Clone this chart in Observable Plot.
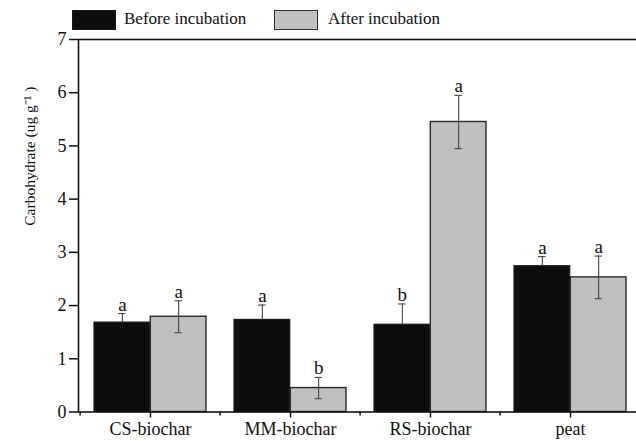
<!DOCTYPE html>
<html>
<head>
<meta charset="utf-8">
<script src="https://cdn.jsdelivr.net/npm/d3@7"></script>
<script src="https://cdn.jsdelivr.net/npm/@observablehq/plot@0.6"></script>
<style>
  html, body { margin: 0; padding: 0; background: #fff; overflow: hidden; }
  #wrap { position: relative; width: 636px; height: 441px; }
  #legend { position: absolute; left: 0; top: 0; width: 636px; height: 36px; font-family: "Liberation Serif", "Times New Roman", serif; font-size: 17px; color: #111; }
  .sw { position: absolute; top: 10px; width: 44px; height: 20px; box-sizing: border-box; }
  .lt { position: absolute; top: 9px; line-height: 20px; }
</style>
</head>
<body>
<div id="wrap">
  <div id="chart"></div>
  <div id="legend"></div>
</div>
<script>
const categories = ["CS-biochar", "MM-biochar", "RS-biochar", "peat"];
const seriesNames = ["Before incubation", "After incubation"];
const before = [1.68, 1.73, 1.64, 2.74];
const beforeErr = [0.17, 0.28, 0.39, 0.18];
const after = [1.79, 0.45, 5.45, 2.53];
const afterErr = [0.30, 0.20, 0.50, 0.40];
const beforeLetters = ["a", "a", "b", "a"];
const afterLetters = ["a", "b", "a", "a"];
const yTicks = [0, 1, 2, 3, 4, 5, 6, 7];
const yLabel = "Carbohydrate (ug g\u207B\u00B9 )";

const colors = ["#0d0d0d", "#c0c0c0"];

const data = categories.map((c, i) => ({
  cat: c, b: before[i], be: beforeErr[i], a: after[i], ae: afterErr[i],
  bl: beforeLetters[i], al: afterLetters[i]
}));

// layout
const W = 636, H = 441, ML = 78, MR = -5, MT = 39, MB = 29.5;
const pIn = 0.2, pOut = 0.1;
const step = (W - ML - MR) / (categories.length - pIn + 2 * pOut);
const bw = step * (1 - pIn);
const half = bw / 2, q = bw / 4, cap = 4;
const font = "Liberation Serif, Times New Roman, serif";
const errColor = "#444";

const chart = Plot.plot({
  width: W, height: H,
  marginLeft: ML, marginRight: MR, marginTop: MT, marginBottom: MB,
  style: { fontFamily: font, background: "#fff", color: "#111" },
  x: { domain: categories, paddingInner: pIn, paddingOuter: pOut, label: null },
  y: { domain: [0, 7], label: null },
  marks: [
    Plot.barY(data, { x: "cat", y: "b", fill: colors[0], stroke: "#1a1a1a", strokeWidth: 1.2, insetRight: half }),
    Plot.barY(data, { x: "cat", y: "a", fill: colors[1], stroke: "#2a2a2a", strokeWidth: 1.4, insetLeft: half }),
    // error bars (before: lower half hidden inside the black bar)
    Plot.ruleX(data, { x: "cat", y1: "b", y2: d => d.b + d.be, dx: -q, stroke: errColor, strokeWidth: 1.1 }),
    Plot.ruleX(data, { x: "cat", y1: d => d.a - d.ae, y2: d => d.a + d.ae, dx: q, stroke: errColor, strokeWidth: 1.1 }),
    Plot.tickY(data, { x: "cat", y: d => d.b + d.be, insetLeft: q - cap, insetRight: bw - q - cap, stroke: errColor, strokeWidth: 1.1 }),
    Plot.tickY(data, { x: "cat", y: d => d.a + d.ae, insetLeft: bw - q - cap, insetRight: q - cap, stroke: errColor, strokeWidth: 1.1 }),
    Plot.tickY(data, { x: "cat", y: d => d.a - d.ae, insetLeft: bw - q - cap, insetRight: q - cap, stroke: errColor, strokeWidth: 1.1 }),
    // significance letters
    Plot.text(data, { x: "cat", y: d => d.b + d.be, text: "bl", dx: -q, dy: -3, lineAnchor: "bottom", fontSize: 19, fill: "#111" }),
    Plot.text(data, { x: "cat", y: d => d.a + d.ae, text: "al", dx: q, dy: -3, lineAnchor: "bottom", fontSize: 19, fill: "#111" }),
    // frame
    Plot.frame({ stroke: "#111", strokeWidth: 1.6 }),
    // axes
    Plot.axisY({ ticks: yTicks, tickSize: 9, tickPadding: 3, fontSize: 18, tickFormat: d => String(d), strokeWidth: 1.5, label: null }),
    Plot.axisX({ tickSize: 6, tickPadding: 4, fontSize: 18, strokeWidth: 1.5, label: null }),
    Plot.axisX({ ticks: categories, tickSize: 4, text: null, dx: -step / 2, strokeWidth: 1.5, label: null }),
    // y label
    Plot.text([yLabel], { frameAnchor: "left", text: d => d, rotate: -90, dx: -48, fontSize: 15.5, fill: "#111" })
  ]
});
document.getElementById("chart").appendChild(chart);

// legend
const legend = document.getElementById("legend");
const legendItems = [
  { name: seriesNames[0], color: colors[0], border: "#1a1a1a", sx: 72, tx: 124 },
  { name: seriesNames[1], color: colors[1], border: "#333", sx: 274, tx: 328 }
];
legendItems.forEach(it => {
  const s = document.createElement("div");
  s.className = "sw";
  s.style.left = it.sx + "px";
  s.style.background = it.color;
  s.style.border = "1.5px solid " + it.border;
  legend.appendChild(s);
  const t = document.createElement("div");
  t.className = "lt";
  t.style.left = it.tx + "px";
  t.textContent = it.name;
  legend.appendChild(t);
});
</script>
</body>
</html>
